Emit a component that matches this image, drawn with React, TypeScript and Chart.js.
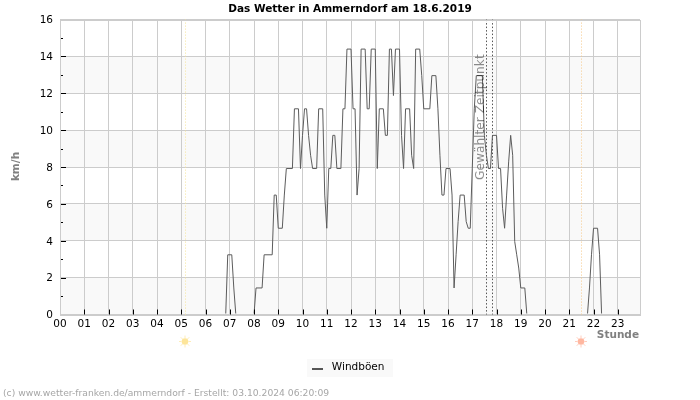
import { useEffect, useRef } from "react";
import { Chart, registerables } from "chart.js";

Chart.register(...registerables);

const chartTitle = "Das Wetter in Ammerndorf am 18.6.2019";
const seriesName = "Windböen";
const yAxisName = "km/h";
const xAxisName = "Stunde";
const selectedLabel = "Gewählter Zeitpunkt";
const creditLine = "(c) www.wetter-franken.de/ammerndorf - Erstellt: 03.10.2024 06:20:09";

// Time of day in minutes and the gust speed recorded at that time.
const gustMinutes = [
  0, 410, 415, 425, 430, 435, 480, 485, 500, 505, 525, 530, 535, 540, 550, 555, 560, 575, 580, 590,
  595, 600, 605, 610, 615, 620, 625, 635, 640, 650, 655, 660, 665, 670, 675, 680, 685, 695, 700, 705,
  710, 720, 725, 730, 735, 740, 745, 755, 760, 765, 770, 780, 785, 790, 800, 805, 810, 815, 820, 825,
  830, 840, 845, 850, 855, 865, 870, 875, 880, 890, 895, 900, 915, 920, 930, 935, 940, 945, 950, 955,
  965, 970, 975, 980, 985, 990, 1000, 1005, 1010, 1015, 1020, 1025, 1030, 1045, 1050, 1055, 1060, 1065, 1070, 1080,
  1085, 1090, 1095, 1100, 1105, 1110, 1115, 1120, 1125, 1130, 1135, 1140, 1150, 1155, 1305, 1310, 1315, 1320, 1330, 1335,
  1340, 1435,
];
const gustKmh = [
  0, 0, 3.24, 3.24, 1.44, 0, 0, 1.44, 1.44, 3.24, 3.24, 6.48, 6.48, 4.68, 4.68, 6.48, 7.92, 7.92, 11.16, 11.16,
  7.92, 9.72, 11.16, 11.16, 9.72, 8.64, 7.92, 7.92, 11.16, 11.16, 6.48, 4.68, 7.92, 7.92, 9.72, 9.72, 7.92, 7.92, 11.16, 11.16,
  14.4, 14.4, 11.16, 11.16, 6.48, 7.92, 14.4, 14.4, 11.16, 11.16, 14.4, 14.4, 7.92, 11.16, 11.16, 9.72, 9.72, 14.4, 14.4, 11.88,
  14.4, 14.4, 9.72, 7.92, 11.16, 11.16, 8.64, 7.92, 14.4, 14.4, 12.96, 11.16, 11.16, 12.96, 12.96, 11.16, 8.64, 6.48, 6.48, 7.92,
  7.92, 6.48, 1.44, 3.24, 5.04, 6.48, 6.48, 5.04, 4.68, 4.68, 7.92, 11.16, 12.96, 12.96, 9.72, 8.64, 7.92, 7.92, 9.72, 9.72,
  7.92, 7.92, 5.76, 4.68, 6.48, 8.28, 9.72, 8.64, 3.96, 3.24, 2.52, 1.44, 1.44, 0, 0, 1.44, 3.24, 4.68, 4.68, 3.24,
  0, 0,
];

const sunriseMinute = 310;
const sunsetMinute = 1290;
const selectedMinutes = [1055, 1070];
const shadedBands = [[0, 2], [4, 6], [8, 10], [12, 14]];

const FONT = '"DejaVu Sans"';

// Frame, inward ticks, event markers and the free-standing captions around the plot.
const decorations = {
  id: "decorations",
  afterLayout(chart: any) {
    // The value axis takes no layout width, but its labels need the left margin to draw into.
    chart.scales.y.left = 0;
  },
  beforeDraw(chart: any) {
    const { ctx, chartArea: a, scales } = chart;
    ctx.save();
    ctx.fillStyle = "#f9f9f9";
    for (const [lo, hi] of shadedBands) {
      const top = scales.y.getPixelForValue(hi);
      const bottom = scales.y.getPixelForValue(lo);
      ctx.fillRect(a.left, top, a.right - a.left, bottom - top);
    }
    const hb = chart.legend?.legendHitBoxes?.[0];
    if (hb) {
      const mid = Math.round(hb.top + hb.height / 2);
      ctx.fillStyle = "#f9f9f9";
      ctx.fillRect(Math.round(hb.left) - 9, mid - 9, 86, 18);
      // Legend key: a short thick stroke in the series colour.
      ctx.fillStyle = "#555555";
      ctx.fillRect(Math.round(hb.left) - 4, mid, 11, 2);
    }
    ctx.restore();
  },
  afterDatasetsDraw(chart: any) {
    const { ctx, chartArea: a, scales } = chart;
    const { x, y } = scales;
    ctx.save();

    const marker = (minute: number, color: string, dash: number[]) => {
      const px = Math.round(x.getPixelForValue(minute)) + 0.5;
      ctx.strokeStyle = color;
      ctx.lineWidth = 1;
      ctx.setLineDash(dash);
      ctx.beginPath();
      ctx.moveTo(px, a.top);
      ctx.lineTo(px, a.bottom);
      ctx.stroke();
      ctx.setLineDash([]);
      return px;
    };
    const sun = (px: number, color: string) => {
      const cy = 341.5;
      ctx.strokeStyle = color;
      ctx.fillStyle = color;
      ctx.globalAlpha = 0.7;
      ctx.lineWidth = 1;
      for (let i = 0; i < 8; i++) {
        const t = (i * Math.PI) / 4;
        ctx.beginPath();
        ctx.moveTo(px + Math.cos(t) * 3.5, cy + Math.sin(t) * 3.5);
        ctx.lineTo(px + Math.cos(t) * 6, cy + Math.sin(t) * 6);
        ctx.stroke();
      }
      ctx.globalAlpha = 1;
      ctx.beginPath();
      ctx.arc(px, cy, 3.3, 0, Math.PI * 2);
      ctx.fill();
    };
    sun(marker(sunriseMinute, "#f5e49a", [1, 2]) - 0.5, "#fde59a");
    sun(marker(sunsetMinute, "#f6c98a", [1, 2]) - 0.5, "#ffb7a0");
    for (const m of selectedMinutes) marker(m, "#555555", [1.5, 2]);

    ctx.strokeStyle = "#cccccc";
    ctx.lineWidth = 1;
    ctx.strokeRect(Math.round(a.left) + 0.5, Math.round(a.top) + 0.5, Math.round(a.right - a.left), Math.round(a.bottom - a.top));

    ctx.strokeStyle = "#000000";
    for (const t of x.ticks) {
      if (t.value === 0) continue;
      const px = Math.round(x.getPixelForValue(t.value)) + 0.5;
      ctx.beginPath();
      ctx.moveTo(px, a.bottom);
      ctx.lineTo(px, a.bottom - 5);
      ctx.stroke();
    }
    for (const t of y.ticks) {
      if (t.value === 0 || t.value === 16) continue;
      const py = Math.round(y.getPixelForValue(t.value)) + 0.5;
      const len = t.value % 2 === 0 ? 5 : 2;
      ctx.beginPath();
      ctx.moveTo(a.left + 1, py);
      ctx.lineTo(a.left + 1 + len, py);
      ctx.stroke();
    }

    // Vertical caption beside the selected time markers.
    ctx.save();
    ctx.translate(484, 180);
    ctx.rotate(-Math.PI / 2);
    ctx.font = `12.2px ${FONT}`;
    ctx.fillStyle = "rgba(0,0,0,0.45)";
    ctx.textAlign = "left";
    ctx.textBaseline = "alphabetic";
    ctx.fillText(selectedLabel, 0, 0);
    ctx.restore();

    ctx.save();
    ctx.translate(19, 166.5);
    ctx.rotate(-Math.PI / 2);
    ctx.font = `bold 10.5px ${FONT}`;
    ctx.fillStyle = "#808080";
    ctx.textAlign = "center";
    ctx.textBaseline = "alphabetic";
    ctx.fillText(yAxisName, 0, 0);
    ctx.restore();

    ctx.font = `bold 10.5px ${FONT}`;
    ctx.fillStyle = "#808080";
    ctx.textAlign = "right";
    ctx.textBaseline = "alphabetic";
    ctx.fillText(xAxisName, 639, 338);

    ctx.font = `9.2px ${FONT}`;
    ctx.fillStyle = "#a6a6a6";
    ctx.textAlign = "left";
    ctx.fillText(creditLine, 3, 396);
    ctx.restore();
  },
};

export default function App() {
  const canvasRef = useRef<HTMLCanvasElement>(null);

  useEffect(() => {
    const chart = new Chart(canvasRef.current as HTMLCanvasElement, {
      type: "line",
      data: {
        datasets: [
          {
            label: seriesName,
            data: gustMinutes.map((m, i) => ({ x: m, y: gustKmh[i] })),
            borderColor: "#5c5c5c",
            backgroundColor: "#555555",
            borderWidth: 1,
            pointRadius: 0,
            tension: 0,
            clip: { left: 0, top: 0, right: 0, bottom: -1 },
          },
        ],
      },
      options: {
        animation: false,
        responsive: false,
        layout: { padding: { left: 60, right: 60, top: 0, bottom: 17 } },
        plugins: {
          tooltip: { enabled: false },
          title: {
            display: true,
            text: chartTitle,
            color: "#000000",
            font: { family: FONT, size: 10.5, weight: "bold" },
            padding: { top: 3, bottom: 4 },
          },
          legend: {
            position: "bottom",
            labels: {
              color: "#000000",
              font: { family: FONT, size: 10.5 },
              boxWidth: 11,
              boxHeight: 2,
              padding: 4,
              generateLabels: (chart: any) =>
                Chart.defaults.plugins.legend.labels
                  .generateLabels(chart)
                  .map((item: any) => ({ ...item, fillStyle: "rgba(0,0,0,0)", strokeStyle: "rgba(0,0,0,0)" })),
            },
          },
        },
        scales: {
          x: {
            type: "linear",
            min: 0,
            max: 1435,
            afterFit: (s: any) => {
              s.height = 44;
            },
            border: { display: false },
            grid: { color: "#cccccc", drawTicks: false },
            ticks: {
              stepSize: 60,
              includeBounds: false,
              autoSkip: false,
              maxRotation: 0,
              padding: 3,
              color: "#000000",
              font: { family: FONT, size: 10.5 },
              callback: (v: any) => String(v / 60).padStart(2, "0"),
            },
          },
          y: {
            min: 0,
            max: 16,
            afterFit: (s: any) => {
              s.width = 0;
            },
            border: { display: false },
            grid: {
              drawTicks: false,
              color: (c: any) => (c.tick.value % 2 === 0 ? "#cccccc" : "rgba(0,0,0,0)"),
            },
            ticks: {
              stepSize: 1,
              autoSkip: false,
              padding: 7,
              labelOffset: 1,
              color: "#000000",
              font: { family: FONT, size: 10.5 },
              callback: (v: any) => (v % 2 === 0 ? String(v) : ""),
            },
          },
        },
      },
      plugins: [decorations],
    } as any);
    return () => chart.destroy();
  }, []);

  return (
    <div style={{ position: "fixed", left: 0, top: 0, width: 700, height: 400, background: "#ffffff" }}>
      <canvas ref={canvasRef} width={700} height={400} style={{ display: "block" }} />
    </div>
  );
}
